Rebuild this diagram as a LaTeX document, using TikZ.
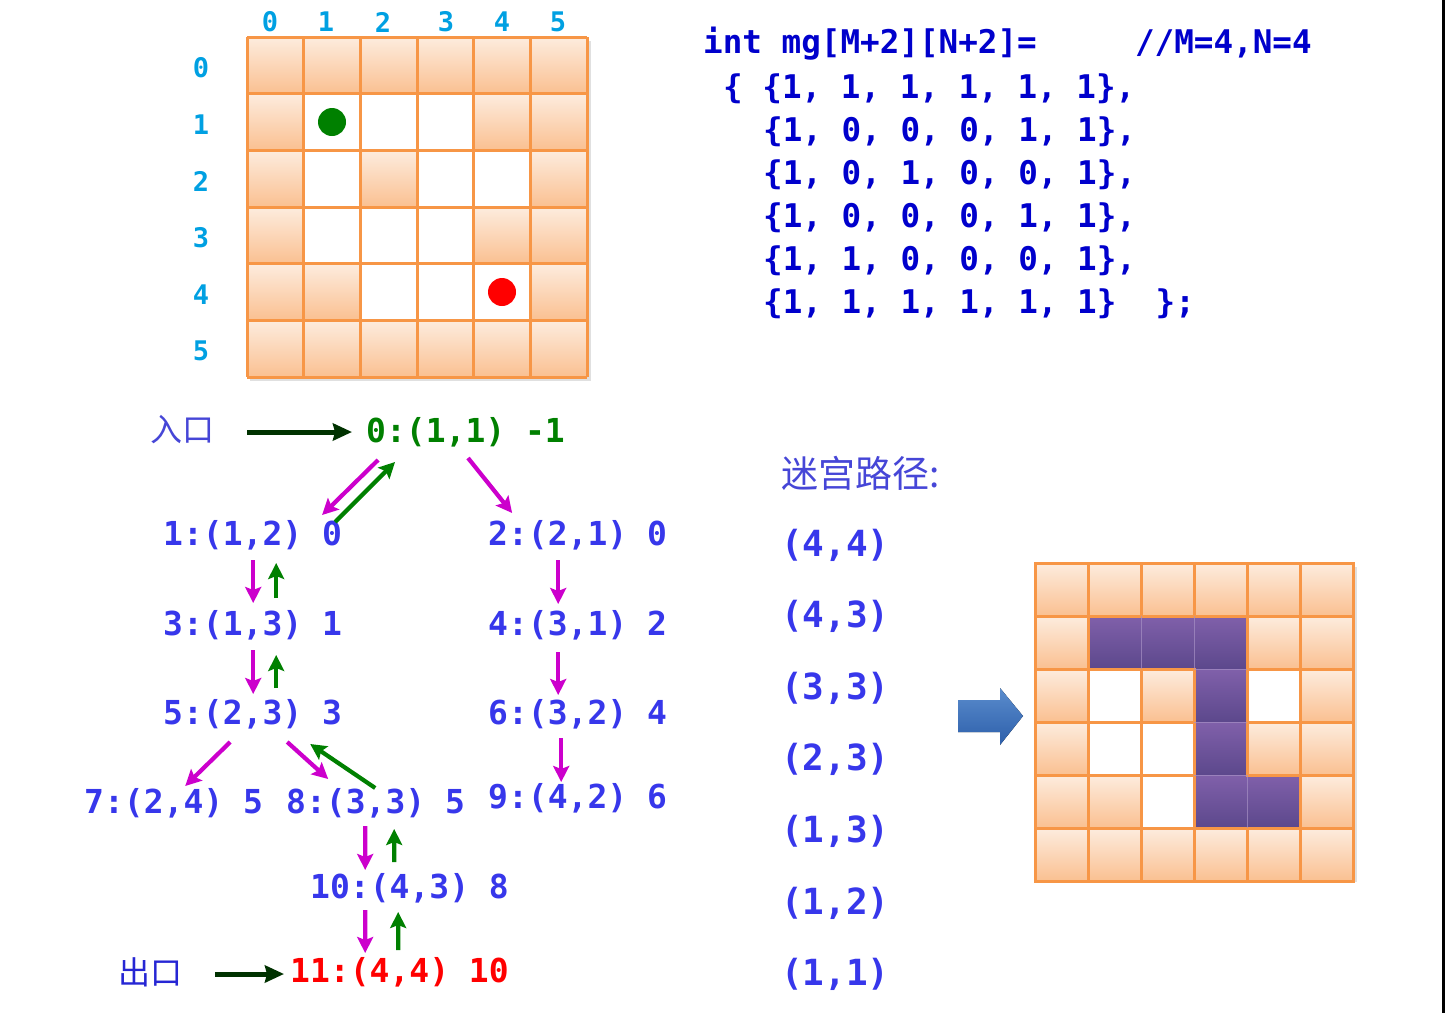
\documentclass[tikz,border=0pt]{standalone}
\usepackage{fontspec}
\newfontfamily\mono{DejaVu Sans Mono}[WordSpace={1,0,0}]
\newfontfamily\cjk{Noto Sans CJK SC}
\usetikzlibrary{arrows.meta,calc}
\definecolor{treeblue}{RGB}{55,55,235}
\definecolor{codeblue}{RGB}{0,0,204}
\definecolor{axisblue}{RGB}{0,160,226}
\definecolor{mag}{RGB}{204,0,204}
\definecolor{grn}{RGB}{0,128,0}
\definecolor{dgrn}{RGB}{0,50,0}
\definecolor{rootgreen}{RGB}{0,128,0}
\definecolor{exitred}{RGB}{255,0,0}
\definecolor{wallT}{RGB}{253,236,222}
\definecolor{wallB}{RGB}{250,192,145}
\definecolor{gridline}{RGB}{247,150,70}
\definecolor{purT}{RGB}{128,96,170}
\definecolor{purB}{RGB}{92,72,140}
\definecolor{cjkblue}{RGB}{70,70,215}
\definecolor{arrT}{RGB}{90,140,205}
\definecolor{arrB}{RGB}{45,95,170}
\tikzset{
  treetxt/.style={font={\mono\bfseries\fontsize{33}{33}\selectfont}, text=treeblue, inner sep=0pt, anchor=west},
  codetxt/.style={font={\mono\bfseries\fontsize{32.6}{32.6}\selectfont}, text=codeblue, inner sep=0pt, anchor=west},
  axistxt/.style={font={\mono\bfseries\fontsize{27}{27}\selectfont}, text=axisblue, inner sep=0pt},
  pathtxt/.style={font={\mono\bfseries\fontsize{36}{36}\selectfont}, text=treeblue, inner sep=0pt, anchor=west},
  cjktxt/.style={font={\cjk\fontsize{32}{32}\selectfont}, inner sep=0pt},
  marr/.style={draw=mag, line width=4.2pt, -{Stealth[length=16pt,width=16pt,inset=3pt]}},
  garr/.style={draw=grn, line width=4.2pt, -{Stealth[length=16pt,width=16pt,inset=3pt]}},
  darr/.style={draw=dgrn, line width=5pt, -{Stealth[length=19pt,width=17pt,inset=2pt]}},
}
\begin{document}
\begin{tikzpicture}[x=1pt,y=-1pt]
\useasboundingbox (0,0) rectangle (1445,1013);
\fill[white] (0,0) rectangle (1445,1013);
\fill[black] (1442,0) rectangle (1445,1013);

% ---------- left maze ----------
\def\lc{56.667}
\fill[black,opacity=0.12] (250,41) rectangle (591,381);
\foreach \r in {0,...,5}{
  \foreach \c in {0,...,5}{
    \pgfmathtruncatemacro\t{{1,1,1,1,1,1, 1,0,0,0,1,1, 1,0,1,0,0,1, 1,0,0,0,1,1, 1,1,0,0,0,1, 1,1,1,1,1,1}[\r*6+\c]}
    \ifnum\t=1
      \fill[top color=wallT,bottom color=wallB] ({247+\c*\lc},{37+\r*\lc}) rectangle ++(\lc,\lc);
    \else
      \fill[white] ({247+\c*\lc},{37+\r*\lc}) rectangle ++(\lc,\lc);
    \fi
  }
}
\foreach \i in {0,...,6}{
  \draw[gridline,line width=3pt] ({247+\i*\lc},37) -- ({247+\i*\lc},377);
  \draw[gridline,line width=3pt] (247,{37+\i*\lc}) -- (587,{37+\i*\lc});
}
\fill[rootgreen] (332,122) circle (14);
\fill[exitred] (502,292) circle (14);

% axis labels
\node[axistxt] (cx0) at (270,22) {0};
\node[axistxt] (cx1) at (326,22) {1};
\node[axistxt] (cx2) at (383,22) {2};
\node[axistxt] (cx3) at (446,22) {3};
\node[axistxt] (cx4) at (502,22) {4};
\node[axistxt] (cx5) at (558,22) {5};
\node[axistxt] (ry0) at (201,68) {0};
\node[axistxt] (ry1) at (201,125) {1};
\node[axistxt] (ry2) at (201,181) {2};
\node[axistxt] (ry3) at (201,238) {3};
\node[axistxt] (ry4) at (201,295) {4};
\node[axistxt] (ry5) at (201,351) {5};

% ---------- code ----------
\node[codetxt] (c1) at (703,44) {int mg[M+2][N+2]=\ \ \ \ \ //M=4,N=4};
\node[codetxt] (c2) at (723,89) {\{ \{1, 1, 1, 1, 1, 1\},};
\node[codetxt] (c3) at (763,132) {\{1, 0, 0, 0, 1, 1\},};
\node[codetxt] (c4) at (763,175) {\{1, 0, 1, 0, 0, 1\},};
\node[codetxt] (c5) at (763,218) {\{1, 0, 0, 0, 1, 1\},};
\node[codetxt] (c6) at (763,261) {\{1, 1, 0, 0, 0, 1\},};
\node[codetxt] (c7) at (763,304) {\{1, 1, 1, 1, 1, 1\}\ \ \};};

% ---------- tree ----------
\node[cjktxt,text=cjkblue] (entry) at (182,430) {入口};
\node[treetxt,text=rootgreen] (n0) at (366,432) {0:(1,1) -1};
\node[treetxt] (n1) at (163,535) {1:(1,2) 0};
\node[treetxt] (n2) at (488,535) {2:(2,1) 0};
\node[treetxt] (n3) at (163,625) {3:(1,3) 1};
\node[treetxt] (n4) at (488,625) {4:(3,1) 2};
\node[treetxt] (n5) at (163,714) {5:(2,3) 3};
\node[treetxt] (n6) at (488,714) {6:(3,2) 4};
\node[treetxt] (n7) at (84,803) {7:(2,4) 5};
\node[treetxt] (n8) at (286,803) {8:(3,3) 5};
\node[treetxt] (n9) at (488,798) {9:(4,2) 6};
\node[treetxt] (n10) at (310,888) {10:(4,3) 8};
\node[treetxt,text=exitred] (n11) at (290,972) {11:(4,4) 10};
\node[cjktxt,text=codeblue!85!white] (exit) at (150,972) {出口};

\draw[darr] ($(entry.east)+(33,2)$) -- ($(n0.west)+(-14,0)$);
\draw[darr] ($(exit.east)+(33,2)$) -- ($(n11.west)+(-6,2)$);

\draw[marr] ($(n0)+(-87.5,28)$) -- ($(n1)+(69.5,-20)$);
\draw[garr] ($(n1)+(82.6,-13)$) -- ($(n0)+(-70.5,30)$);
\draw[marr] ($(n0)+(2.5,26)$) -- ($(n2)+(-65.5,-22)$);

\draw[marr] ($(n1)+(0.6,25)$) -- ($(n3)+(0.6,-22)$);
\draw[garr] ($(n3)+(23.6,-27)$) -- ($(n1)+(23.6,28)$);
\draw[marr] ($(n3)+(0.6,25)$) -- ($(n5)+(0.6,-20)$);
\draw[garr] ($(n5)+(23.6,-26)$) -- ($(n3)+(23.6,30)$);

\draw[marr] ($(n2)+(-19.4,25)$) -- ($(n4)+(-19.4,-21)$);
\draw[marr] ($(n4)+(-19.4,27)$) -- ($(n6)+(-19.4,-19)$);
\draw[marr] ($(n6)+(-16.4,24)$) -- ($(n9)+(-16.4,-16)$);

\draw[marr] ($(n5)+(-22.4,28)$) -- ($(n7)+(11.6,-17)$);
\draw[marr] ($(n5)+(34.6,28)$) -- ($(n8)+(-47.4,-24)$);
\draw[garr] ($(n8)+(-0.4,-15)$) -- ($(n5)+(57.6,30)$);

\draw[marr] ($(n8)+(-10.4,23)$) -- ($(n10)+(-44.35,-18)$);
\draw[garr] ($(n10)+(-15.35,-26)$) -- ($(n8)+(18.6,26)$);
\draw[marr] ($(n10)+(-44.35,22)$) -- ($(n11)+(-34.3,-19)$);
\draw[garr] ($(n11)+(-1.3,-22)$) -- ($(n10)+(-11.35,24)$);

% ---------- path list ----------
\node[cjktxt,text=cjkblue,anchor=west,font={\cjk\fontsize{37}{37}\selectfont}] (ptitle) at (781,473) {迷宫路径:};
\node[pathtxt] (p1) at (781,545) {(4,4)};
\node[pathtxt] (p2) at (781,616) {(4,3)};
\node[pathtxt] (p3) at (781,688) {(3,3)};
\node[pathtxt] (p4) at (781,759) {(2,3)};
\node[pathtxt] (p5) at (781,831) {(1,3)};
\node[pathtxt] (p6) at (781,903) {(1,2)};
\node[pathtxt] (p7) at (781,974) {(1,1)};

% ---------- block arrow ----------
\fill[top color=arrT,bottom color=arrB] (958,700) -- (1000,700) -- (1000,688) -- (1023,716) -- (1000,745) -- (1000,732) -- (958,732) -- cycle;

% ---------- right maze ----------
\def\rc{53}
\fill[black,opacity=0.12] (1038,567) rectangle (1357,882);
\foreach \r in {0,...,5}{
  \foreach \c in {0,...,5}{
    \pgfmathtruncatemacro\t{{1,1,1,1,1,1, 1,2,2,2,1,1, 1,0,1,2,0,1, 1,0,0,2,1,1, 1,1,0,2,2,1, 1,1,1,1,1,1}[\r*6+\c]}
    \ifcase\t
      \fill[white] ({1035+\c*\rc},{563+\r*\rc}) rectangle ++(\rc,\rc);
    \or
      \fill[top color=wallT,bottom color=wallB] ({1035+\c*\rc},{563+\r*\rc}) rectangle ++(\rc,\rc);
    \or
      \fill[top color=purT,bottom color=purB] ({1035+\c*\rc},{563+\r*\rc}) rectangle ++(\rc,\rc);
    \fi
  }
}
\foreach \r in {0,...,5}{
  \foreach \c in {0,...,5}{
    \pgfmathtruncatemacro\t{{1,1,1,1,1,1, 1,2,2,2,1,1, 1,0,1,2,0,1, 1,0,0,2,1,1, 1,1,0,2,2,1, 1,1,1,1,1,1}[\r*6+\c]}
    \ifnum\t=2 \else
      \draw[gridline,line width=3pt] ({1035+\c*\rc},{563+\r*\rc}) rectangle ++(\rc,\rc);
    \fi
  }
}
\draw[purT!70!white,line width=0.8pt,opacity=0.7]
  (1141,616) -- (1141,669) (1194,616) -- (1194,669)
  (1194,669) -- (1247,669) (1194,722) -- (1247,722) (1194,775) -- (1247,775)
  (1247,775) -- (1247,828);
\end{tikzpicture}
\end{document}
